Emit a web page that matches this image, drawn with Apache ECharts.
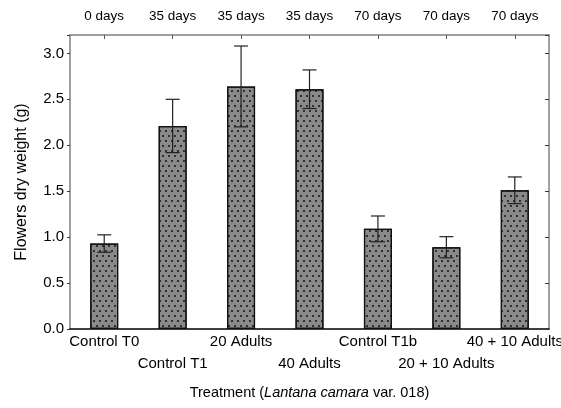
<!DOCTYPE html>
<html>
<head>
<meta charset="utf-8">
<script src="https://cdn.jsdelivr.net/npm/echarts@6/dist/echarts.min.js"></script>
<style>html,body{margin:0;padding:0;background:#fff}#c{width:561px;height:408px}</style>
</head>
<body>
<div id="c"></div>
<script>
var categories = ['Control T0','Control T1','20 Adults','40 Adults','Control T1b','20 + 10 Adults','40 + 10 Adults'];
var days = ['0 days','35 days','35 days','35 days','70 days','70 days','70 days'];
var values = [0.93, 2.21, 2.64, 2.61, 1.09, 0.89, 1.51];
var errors = [0.095, 0.29, 0.44, 0.21, 0.14, 0.115, 0.145];
var yTicks = [0, 0.5, 1.0, 1.5, 2.0, 2.5, 3.0];

var chart = echarts.init(document.getElementById('c'), null, {renderer:'canvas'});
var font = 'Liberation Sans, Arial, sans-serif';
var errData = values.map(function(v,i){ return [i, v - errors[i], v + errors[i]]; });

chart.setOption({
  animation: false,
  textStyle: {fontFamily: font},
  grid: {left: 70, right: 12, top: 35, bottom: 79, containLabel: false, outerBoundsMode: 'none'},
  xAxis: [{
    type: 'category', data: categories, position: 'bottom',
    axisLine: {onZero: false, lineStyle: {color: '#000', width: 1.5}},
    axisTick: {show: false},
    axisLabel: {interval: 0, color: '#000', fontSize: 15, fontFamily: font, margin: 5, hideOverlap: false,
      formatter: function(v, i){ return i % 2 === 0 ? v : ''; }},
    name: '{n|Treatment (}{i|Lantana camara}{n| var. 018)}',
    nameLocation: 'middle', nameGap: 56,
    nameTextStyle: {rich: {n: {fontSize: 14.5, color: '#000', fontFamily: font}, i: {fontSize: 14.5, color: '#000', fontStyle: 'italic', fontFamily: font}}}
  }, {
    type: 'category', data: days, position: 'top',
    axisLine: {onZero: false, lineStyle: {color: '#808080', width: 1.5}},
    axisTick: {show: true, inside: true, alignWithLabel: true, length: 4, lineStyle: {color: '#555'}},
    axisLabel: {interval: 0, color: '#000', fontSize: 13.5, fontFamily: font, margin: 12}
  }, {
    type: 'category', data: categories, position: 'bottom',
    axisLine: {show: false, onZero: false}, axisTick: {show: false},
    axisLabel: {interval: 0, color: '#000', fontSize: 15, fontFamily: font, margin: 27, hideOverlap: false,
      formatter: function(v, i){ return i % 2 === 1 ? v : ''; }}
  }],
  yAxis: [{
    type: 'value', min: 0, max: 3.2, interval: 0.5, position: 'left',
    axisLine: {show: true, onZero: false, lineStyle: {color: '#808080', width: 1.5}},
    axisTick: {show: true, length: 3, lineStyle: {color: '#333'}},
    splitLine: {show: false},
    axisLabel: {color: '#000', fontSize: 15, fontFamily: font, margin: 6,
      formatter: function(v){ return yTicks.indexOf(v) >= 0 ? v.toFixed(1) : ''; }},
    name: 'Flowers dry weight (g)', nameLocation: 'middle', nameGap: 40,
    nameTextStyle: {fontSize: 16, color: '#000', fontFamily: font}
  }, {
    type: 'value', min: 0, max: 3.2, interval: 0.5, position: 'right',
    axisLine: {show: true, onZero: false, lineStyle: {color: '#808080', width: 1.5}},
    axisTick: {show: true, inside: true, length: 4, lineStyle: {color: '#333'}},
    splitLine: {show: false},
    axisLabel: {show: false}
  }],
  series: [{
    type: 'bar', data: values, barWidth: 28, xAxisIndex: 0, yAxisIndex: 0,
    itemStyle: {color: '#8a8a8a', borderColor: '#111', borderWidth: 1.2,
      decal: {symbol: 'rect', symbolSize: 1, color: 'rgba(25,25,25,0.8)',
        dashArrayX: [[2, 4], [0, 3, 2, 1]], dashArrayY: [2, 3], rotation: 0}}
  }, {
    type: 'custom', data: errData, xAxisIndex: 0, yAxisIndex: 0, z: 10,
    renderItem: function(params, api){
      var x = api.value(0);
      var lo = api.coord([x, api.value(1)]);
      var hi = api.coord([x, api.value(2)]);
      var cap = 7;
      var st = {stroke: '#222', lineWidth: 1.2};
      return {type: 'group', children: [
        {type: 'line', shape: {x1: lo[0], y1: lo[1], x2: hi[0], y2: hi[1]}, style: st},
        {type: 'line', shape: {x1: hi[0]-cap, y1: hi[1], x2: hi[0]+cap, y2: hi[1]}, style: st},
        {type: 'line', shape: {x1: lo[0]-cap, y1: lo[1], x2: lo[0]+cap, y2: lo[1]}, style: st}
      ]};
    }
  }]
});
</script>
</body>
</html>
